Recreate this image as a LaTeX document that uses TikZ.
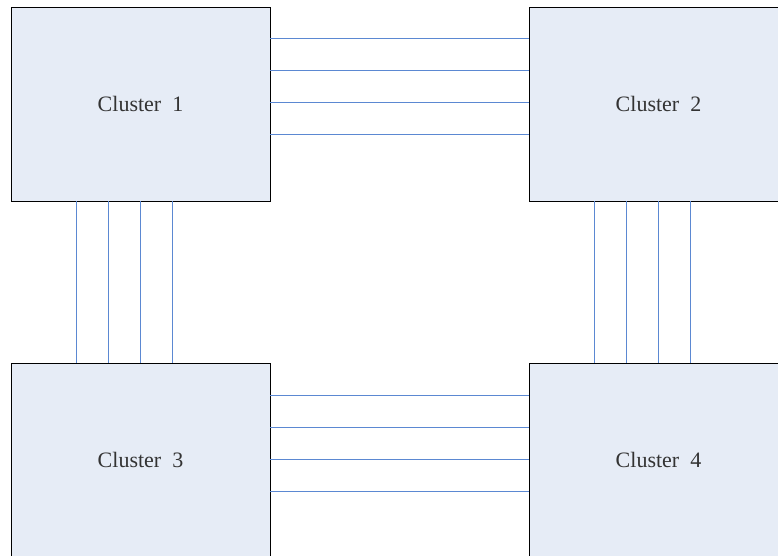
\documentclass[tikz,border=0pt]{standalone}
\usepackage{fontspec}
\setmainfont{Liberation Serif}
\usepackage{tikz}
\usetikzlibrary{positioning}
\definecolor{BoxFill}{HTML}{E6ECF6}
\definecolor{LinkBlue}{HTML}{5B88D2}
\definecolor{LabelGrey}{HTML}{333333}
\tikzset{
  cluster/.style = {draw=black, fill=BoxFill, line width=0.9pt,
                    minimum width=259pt, minimum height=194pt,
                    inner sep=0pt, outer sep=0pt,
                    font=\fontsize{22}{25}\selectfont, text=LabelGrey},
  link/.style    = {draw=LinkBlue, line width=1pt},
}
\begin{document}
\begin{tikzpicture}[x=1pt, y=-1pt]

  \useasboundingbox (0,0) rectangle (778,556);
  \clip (0,0) rectangle (778,556);

  \node[cluster] (c1) at (140.5,104)   {Cluster~~1};
  \node[cluster] (c2) at (658.5,104)   {Cluster~~2};
  \node[cluster] (c3) at (140.5,460)   {Cluster~~3};
  \node[cluster] (c4) at (658.5,460)   {Cluster~~4};

  % links between the clusters
  \foreach \d in {32,64,96,128} {
    \draw[link] ([yshift=-\d pt]c1.north east) -- ([yshift=-\d pt]c2.north west);
    \draw[link] ([yshift=-\d pt]c3.north east) -- ([yshift=-\d pt]c4.north west);
  }
  \foreach \d in {65.5,97.5,129.5,161.5} {
    \draw[link] ([xshift=\d pt]c1.south west) -- ([xshift=\d pt]c3.north west);
    \draw[link] ([xshift=\d pt]c2.south west) -- ([xshift=\d pt]c4.north west);
  }

\end{tikzpicture}
\end{document}
